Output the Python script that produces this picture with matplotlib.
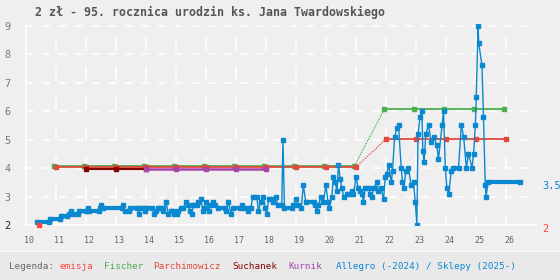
import matplotlib
matplotlib.use("Agg")
import matplotlib.pyplot as plt
import matplotlib.transforms as mtransforms

# -----------------------------
# DATA
# -----------------------------
title = "2 zł - 95. rocznica urodzin ks. Jana Twardowskiego"

emisja_x = [10.45]
emisja_y = [2.0]

fischer_x = [10.95, 11.95, 12.95, 13.95, 14.95, 15.95, 16.95, 17.95, 18.95, 19.95, 20.95,
             21.95, 22.95, 23.95, 24.95, 25.95]
fischer_y = [4.07, 4.07, 4.07, 4.07, 4.07, 4.07, 4.07, 4.07, 4.07, 4.07, 4.07,
             6.07, 6.07, 6.07, 6.07, 6.07]

parch_x = [11.0, 12.0, 13.0, 14.0, 15.0, 16.0, 17.0, 18.0, 19.0, 20.0, 21.0,
           22.0, 23.0, 24.0, 25.0, 26.0]
parch_y = [4.03, 4.03, 4.03, 4.03, 4.03, 4.03, 4.03, 4.03, 4.03, 4.03, 4.03,
           5.01, 5.01, 5.01, 5.01, 5.01]

suchanek_x = [12.0, 13.0, 14.0]
suchanek_y = [3.98, 3.98, 3.98]

kurnik_x = [14.0, 15.0, 16.0, 17.0, 18.0]
kurnik_y = [3.98, 3.98, 3.98, 3.98, 3.98]

allegro_x = [10.39, 10.78, 10.81, 11.14, 11.17, 11.38, 11.45, 11.52, 11.58, 11.75,
             11.78, 12.0, 12.06, 12.1, 12.43, 12.47, 12.52, 12.56, 13.2, 13.25,
             13.3, 13.43, 13.47, 13.72, 13.76, 13.8, 13.95, 13.98, 14.02, 14.22,
             14.28, 14.34, 14.4, 14.48, 14.57, 14.59, 14.68, 14.75, 14.83, 14.9,
             14.94, 15.03, 15.09, 15.17, 15.25, 15.34, 15.42, 15.48, 15.53, 15.59,
             15.7, 15.75, 15.84, 15.9, 15.94, 16.01, 16.09, 16.14, 16.23, 16.31,
             16.39, 16.64, 16.68, 16.75, 16.84, 16.9, 17.14, 17.2, 17.25, 17.39,
             17.42, 17.5, 17.57, 17.7, 17.75, 17.83, 17.92, 17.98, 18.03, 18.09,
             18.2, 18.25, 18.34, 18.39, 18.53, 18.57, 18.62, 18.87, 18.92, 19.0,
             19.07, 19.18, 19.25, 19.33, 19.59, 19.64, 19.7, 19.75, 19.84, 19.92,
             20.0, 20.07, 20.11, 20.2, 20.25, 20.31, 20.37, 20.42, 20.48, 20.53,
             20.59, 20.7, 20.81, 20.87, 20.92, 21.01, 21.07, 21.14, 21.2, 21.25,
             21.31, 21.42, 21.48, 21.53, 21.59, 21.7, 21.75, 21.84, 21.92, 21.98,
             22.03, 22.09, 22.18, 22.22, 22.29, 22.37, 22.42, 22.51, 22.55, 22.59,
             22.67, 22.75, 22.84, 22.92, 22.98, 23.03, 23.07, 23.14, 23.2, 23.23,
             23.27, 23.33, 23.42, 23.51, 23.59, 23.7, 23.75, 23.87, 23.92, 23.98,
             24.03, 24.09, 24.18, 24.25, 24.42, 24.51, 24.59, 24.68, 24.75, 24.87,
             24.92, 24.98, 25.01, 25.07, 25.09, 25.2, 25.25, 25.31, 25.34, 25.4,
             26.48]
allegro_y = [2.1, 2.1, 2.2, 2.2, 2.3, 2.3, 2.4, 2.5, 2.4, 2.4,
             2.5, 2.5, 2.6, 2.5, 2.5, 2.6, 2.7, 2.6, 2.6, 2.7,
             2.5, 2.5, 2.6, 2.6, 2.4, 2.6, 2.6, 2.5, 2.6, 2.6,
             2.4, 2.5, 2.6, 2.6, 2.6, 2.5, 2.8, 2.4, 2.5, 2.5,
             2.4, 2.4, 2.5, 2.6, 2.6, 2.8, 2.7, 2.5, 2.4, 2.7,
             2.7, 2.8, 2.9, 2.5, 2.6, 2.8, 2.5, 2.7, 2.8, 2.7,
             2.6, 2.6, 2.5, 2.8, 2.4, 2.6, 2.6, 2.7, 2.6, 2.6,
             2.5, 2.6, 3.0, 3.0, 2.5, 2.8, 3.0, 2.6, 2.4, 2.9,
             2.9, 2.8, 3.0, 2.7, 2.7, 5.0, 2.6, 2.6, 2.7, 2.9,
             2.7, 2.6, 3.4, 2.8, 2.8, 2.7, 2.5, 2.7, 3.0, 2.8,
             3.4, 2.8, 2.6, 3.0, 3.7, 3.5, 3.2, 4.1, 3.6, 3.3,
             3.0, 3.1, 3.1, 3.2, 3.1, 3.7, 3.3, 3.2, 3.1, 2.8,
             3.3, 3.3, 3.1, 3.0, 3.3, 3.5, 3.2, 3.3, 2.9, 3.7,
             3.8, 4.1, 3.5, 3.9, 5.1, 5.4, 5.5, 4.0, 3.5, 3.3,
             3.9, 4.0, 3.4, 3.5, 2.8, 2.0, 5.2, 5.8, 6.0, 4.6,
             4.2, 5.2, 5.5, 4.9, 5.1, 4.8, 4.3, 5.5, 6.0, 4.0,
             3.3, 3.1, 3.9, 4.0, 4.0, 5.5, 5.1, 4.0, 4.5, 4.0,
             4.5, 5.5, 6.5, 9.0, 8.4, 7.6, 5.8, 3.4, 3.0, 3.5,
             3.5]

legend_words = ["Legenda:", "emisja", "Fischer", "Parchimowicz", "Suchanek", "Kurnik",
                "Allegro (-2024) / Sklepy (2025-)"]
legend_px = [9, 60, 104, 153.5, 232.5, 288.5, 335.5]

years = list(range(10, 27))
y_ticks = [2, 3, 4, 5, 6, 7, 8, 9]

# colours
BG = "#efefef"
C_EMISJA = "#ff4444"
C_FISCHER = "#4caf50"
C_PARCH = "#e2483d"
C_SUCH = "#880000"
C_KURNIK = "#aa44aa"
C_ALLEGRO = "#0a88d0"
legend_colors = ["#666666", C_EMISJA, C_FISCHER, C_PARCH, C_SUCH, C_KURNIK, C_ALLEGRO]

plt.rcParams["font.family"] = ["DejaVu Sans Mono", "DejaVu Sans"]

W, H = 560, 280
fig = plt.figure(figsize=(5.6, 2.8), dpi=100, facecolor=BG)

# legend band at the bottom
fig.patches.append(plt.Rectangle((0, 0), 1, 28 / H, transform=fig.transFigure,
                                 facecolor="#e9e9e9", edgecolor="none", zorder=0))
fig.patches.append(plt.Rectangle((0, 28 / H), 1, 2 / H, transform=fig.transFigure,
                                 facecolor="#f6f6f6", edgecolor="none", zorder=0))

ax = fig.add_axes([25.7 / W, 1 - 225 / H, (536 - 25.7) / W, (225 - 24.1) / H])
ax.set_facecolor(BG)
ax.set_xlim(10, 27.0)
ax.set_ylim(2, 9.05)

for s in ["top", "right"]:
    ax.spines[s].set_visible(False)
for s in ["left", "bottom"]:
    ax.spines[s].set_color("white")
    ax.spines[s].set_linewidth(1.2)

# grid
for yv in y_ticks[1:]:
    ax.axhline(yv, color="white", lw=1.1, ls=(0, (5, 5.8)), zorder=1)
for xv in years[1:]:
    ax.axvline(xv, color="white", lw=1.1, ls=(3, (9, 10.5)), zorder=1)

ax.set_xticks(years)
ax.set_xticklabels([str(v) for v in years])
ax.set_yticks(y_ticks)
ax.set_yticklabels([str(v) for v in y_ticks])
ax.tick_params(axis="x", length=0, pad=8, labelsize=6, labelcolor="#666666")
ax.tick_params(axis="y", length=0, pad=11, labelsize=7.3, labelcolor="#777777")
ax.get_yticklabels()[0].set_color("#222222")
off = mtransforms.ScaledTranslation(3.5 / 100, 0, fig.dpi_scale_trans)
for lab in ax.get_xticklabels():
    lab.set_transform(lab.get_transform() + off)

# Fischer / Parchimowicz: solid parts + thin dotted connector
n1 = 11
for xs, ys, c in [(fischer_x, fischer_y, C_FISCHER), (parch_x, parch_y, C_PARCH)]:
    ax.plot(xs[n1 - 1:n1 + 1], ys[n1 - 1:n1 + 1], color=c, lw=0.9, ls=(0, (1, 1)), zorder=3)
    ax.plot(xs[:n1], ys[:n1], color=c, lw=1.3, marker="s", ms=2.6, zorder=3)
    ax.plot(xs[n1:], ys[n1:], color=c, lw=1.3, marker="s", ms=2.6, zorder=3)

ax.plot(suchanek_x, suchanek_y, color=C_SUCH, lw=1.5, marker="s", ms=2.8, zorder=4)
ax.plot(kurnik_x, kurnik_y, color=C_KURNIK, lw=1.8, marker="s", ms=2.8, zorder=4)

# Allegro: thin line, square markers, flat stretches drawn thick
ax.plot(allegro_x, allegro_y, color=C_ALLEGRO, lw=1.0, marker="s", ms=2.4, zorder=5)
for i in range(len(allegro_x) - 1):
    if allegro_y[i] == allegro_y[i + 1]:
        ax.plot(allegro_x[i:i + 2], allegro_y[i:i + 2], color=C_ALLEGRO, lw=3.0,
                solid_capstyle="butt", zorder=5)

ax.plot(emisja_x, emisja_y, color=C_EMISJA, ls="none", marker="s", ms=3.4,
        zorder=6, clip_on=False)

# last values at the right
for val, c in [(allegro_y[-1], C_ALLEGRO), (emisja_y[-1], C_EMISJA)]:
    ax.annotate(f"{val:g}", xy=(1.0, val), xycoords=("axes fraction", "data"),
                xytext=(4.2, -2.8), textcoords="offset points",
                ha="left", va="center", fontsize=7.5, color=c)

fig.text(35 / W, 1 - 12.7 / H, title, ha="left", va="center",
         fontsize=8.35, fontweight="bold", color="#555555")

for word, px, c in zip(legend_words, legend_px, legend_colors):
    fig.text(px / W, 1 - 266.5 / H, word, ha="left", va="center", fontsize=6.7, color=c)

fig.savefig("out.png", dpi=100, facecolor=BG)
